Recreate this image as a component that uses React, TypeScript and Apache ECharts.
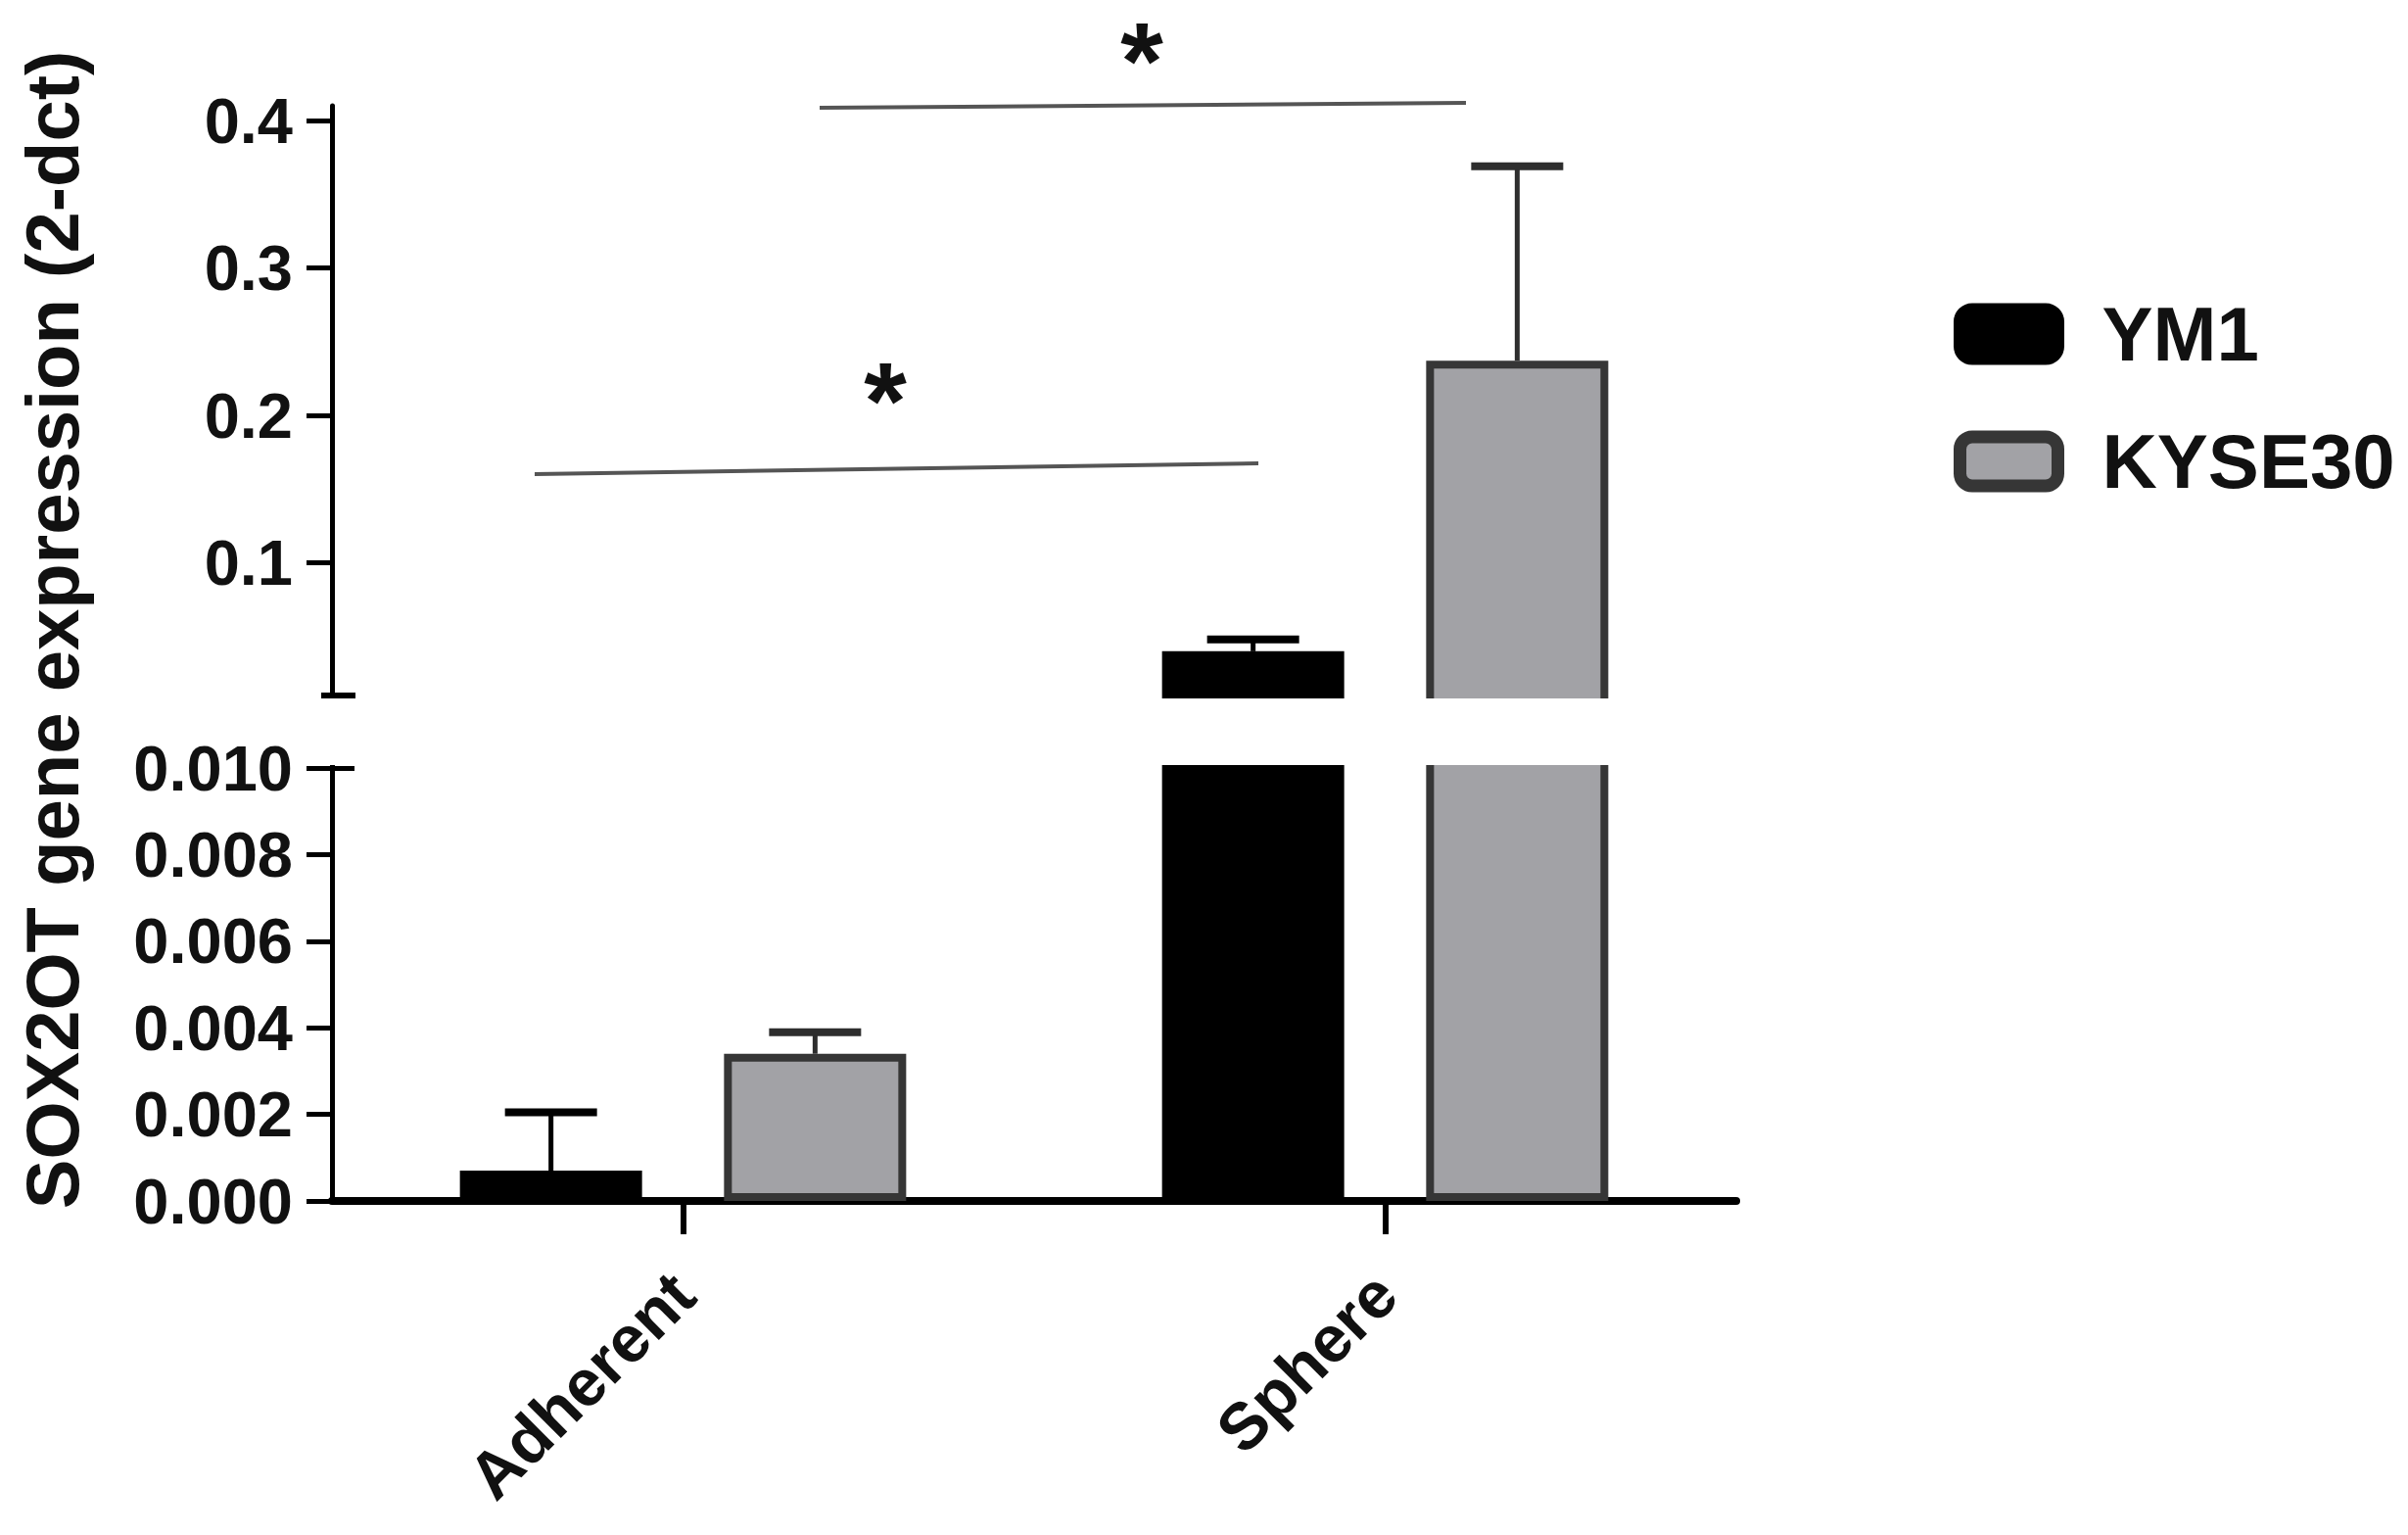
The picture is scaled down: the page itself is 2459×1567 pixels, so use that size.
import React, { useEffect, useRef } from "react";
import * as echarts from "echarts";

// ---- data ----
const categories = ["Adherent", "Sphere"];
const seriesNames = ["YM1", "KYSE30"];
const ym1Mean = [0.0007, 0.04];
const ym1ErrTop = [0.00205, 0.048];
const kyseMean = [0.0034, 0.237];
const kyseErrTop = [0.0039, 0.369];
const upperTickLabels = [0.1, 0.2, 0.3, 0.4];
const lowerTickLabels = [0, 0.002, 0.004, 0.006, 0.008, 0.01];
const breakValue = 0.01; // top of lower segment, bottom of upper segment
const upperRange = [0.005, 0.41];
const lowerRange = [0, 0.0102];
const titleText = "SOX2OT gene expression (2-dct)";
const starText = "*";

// ---- style ----
const FONT = "'Liberation Sans', Arial, Helvetica, sans-serif";
const KYSE_FILL = "#a2a2a6";
const KYSE_BORDER = "#363636";
const BAR_W = 186;
const BAR_GAP = 0.45;
const CAP_W = 94;

function errorRender(seriesIdx: number, part: "upper" | "lower") {
  return (params: any, api: any) => {
    const cat = api.value(0);
    const mean = api.value(1);
    const top = api.value(2);
    if (part === "upper" && mean < breakValue) return null;
    if (part === "lower" && top > breakValue) return null;
    const pTop = api.coord([cat, top]);
    const pBase = api.coord([cat, mean]);
    const off = (seriesIdx === 0 ? -1 : 1) * (BAR_W * (1 + BAR_GAP)) / 2;
    const x = pTop[0] + off;
    const color = seriesIdx === 0 ? "#000" : "#2e2e2e";
    return {
      type: "group",
      children: [
        {
          type: "line",
          shape: { x1: x, y1: pBase[1], x2: x, y2: pTop[1] },
          style: { stroke: color, lineWidth: 5 },
        },
        {
          type: "line",
          shape: { x1: x - CAP_W / 2, y1: pTop[1], x2: x + CAP_W / 2, y2: pTop[1] },
          style: { stroke: color, lineWidth: 8 },
        },
      ],
    };
  };
}

function buildOption() {
  const gridLeft = 339;
  const gridWidth = 1434;
  const labelStyle = {
    fontSize: 65,
    fontWeight: "bold" as const,
    fontFamily: FONT,
    color: "#111",
  };
  const axisLine = { show: true, lineStyle: { color: "#000", width: 5 } };

  const barSeries = (gi: number) => [
    {
      type: "bar",
      name: seriesNames[0],
      xAxisIndex: gi,
      yAxisIndex: gi === 0 ? 0 : 3,
      data: ym1Mean,
      barWidth: BAR_W,
      barGap: `${BAR_GAP * 100}%`,
      itemStyle: { color: "#000", borderColor: "#000", borderWidth: 5 },
      z: 2,
    },
    {
      type: "bar",
      name: seriesNames[1],
      xAxisIndex: gi,
      yAxisIndex: gi === 0 ? 0 : 3,
      data: kyseMean,
      barWidth: BAR_W,
      barGap: `${BAR_GAP * 100}%`,
      itemStyle: { color: KYSE_FILL, borderColor: KYSE_BORDER, borderWidth: 8 },
      z: 2,
    },
  ];

  const errSeries = (gi: number) => [
    {
      type: "custom",
      name: seriesNames[0] + "-err",
      xAxisIndex: gi,
      yAxisIndex: gi === 0 ? 0 : 3,
      renderItem: errorRender(0, gi === 0 ? "upper" : "lower"),
      data: categories.map((_, i) => [i, ym1Mean[i], ym1ErrTop[i]]),
      encode: { x: 0, y: [1, 2] },
      z: 1,
    },
    {
      type: "custom",
      name: seriesNames[1] + "-err",
      xAxisIndex: gi,
      yAxisIndex: gi === 0 ? 0 : 3,
      renderItem: errorRender(1, gi === 0 ? "upper" : "lower"),
      data: categories.map((_, i) => [i, kyseMean[i], kyseErrTop[i]]),
      encode: { x: 0, y: [1, 2] },
      z: 1,
    },
  ];

  return {
    animation: false,
    backgroundColor: "#fff",
    grid: [
      { left: gridLeft, width: gridWidth, top: 108, height: 609.5 },
      { left: gridLeft, width: gridWidth, top: 775.2, height: 450.8 },
    ],
    legend: {
      orient: "vertical",
      left: 1990,
      top: 297,
      itemWidth: 100,
      itemHeight: 50,
      itemGap: 52,
      icon: "roundRect",
      selectedMode: false,
      textStyle: {
        fontSize: 78,
        fontWeight: "bold",
        fontFamily: FONT,
        color: "#111",
        padding: [0, 0, 0, 40],
        lineHeight: 50,
      },
      data: [
        { name: seriesNames[0], itemStyle: { color: "#000", borderColor: "#000", borderWidth: 13 } },
        { name: seriesNames[1], itemStyle: { color: KYSE_FILL, borderColor: KYSE_BORDER, borderWidth: 13 } },
      ],
    },
    xAxis: [
      {
        type: "category",
        gridIndex: 0,
        data: categories,
        show: false,
      },
      {
        type: "category",
        gridIndex: 1,
        data: categories,
        axisLine: { show: true, lineStyle: { color: "#000", width: 8 } },
        axisTick: { show: true, alignWithLabel: true, length: 34, lineStyle: { color: "#000", width: 6 } },
        axisLabel: {
          rotate: 45,
          margin: 84,
          fontSize: 67,
          fontWeight: "bold",
          fontFamily: FONT,
          color: "#111",
        },
      },
    ],
    yAxis: [
      // upper main
      {
        type: "value",
        gridIndex: 0,
        position: "left",
        min: upperRange[0],
        max: upperRange[1],
        axisLine,
        splitLine: { show: false },
        axisTick: { show: true, customValues: upperTickLabels, length: 26, lineStyle: { color: "#000", width: 5 } },
        axisLabel: { ...labelStyle, margin: 40, customValues: upperTickLabels, formatter: (v: number) => v.toFixed(1) },
      },
      // upper break cap (outside part)
      {
        type: "value",
        gridIndex: 0,
        position: "left",
        min: upperRange[0],
        max: upperRange[1],
        axisLine: { show: false },
        splitLine: { show: false },
        axisLabel: { show: false },
        axisTick: { show: true, customValues: [breakValue], length: 11, lineStyle: { color: "#000", width: 6 } },
      },
      // upper break cap (inside part)
      {
        type: "value",
        gridIndex: 0,
        position: "left",
        min: upperRange[0],
        max: upperRange[1],
        axisLine: { show: false },
        splitLine: { show: false },
        axisLabel: { show: false },
        axisTick: { show: true, inside: true, customValues: [breakValue], length: 24, lineStyle: { color: "#000", width: 6 } },
      },
      // lower main
      {
        type: "value",
        gridIndex: 1,
        position: "left",
        min: lowerRange[0],
        max: lowerRange[1],
        axisLine,
        splitLine: { show: false },
        axisTick: { show: true, customValues: lowerTickLabels, length: 26, lineStyle: { color: "#000", width: 5 } },
        axisLabel: { ...labelStyle, margin: 40, customValues: lowerTickLabels, formatter: (v: number) => v.toFixed(3) },
      },
      // lower break cap (inside part)
      {
        type: "value",
        gridIndex: 1,
        position: "left",
        min: lowerRange[0],
        max: lowerRange[1],
        axisLine: { show: false },
        splitLine: { show: false },
        axisLabel: { show: false },
        axisTick: { show: true, inside: true, customValues: [breakValue], length: 23, lineStyle: { color: "#000", width: 5 } },
      },
    ],
    series: [...barSeries(0), ...barSeries(1), ...errSeries(0), ...errSeries(1)],
    graphic: [
      // axis break gap
      {
        type: "rect",
        z: 100,
        shape: { x: 305, y: 713, width: 1500, height: 68 },
        style: { fill: "#fff" },
      },
      {
        type: "text",
        x: 53,
        y: 643,
        rotation: Math.PI / 2,
        style: {
          text: titleText,
          fontSize: 76,
          fontWeight: "bold",
          fontFamily: FONT,
          fill: "#111",
          align: "center",
          verticalAlign: "middle",
        },
      },
      // significance brackets
      {
        type: "line",
        shape: { x1: 837, y1: 110, x2: 1497, y2: 105 },
        style: { stroke: "#555", lineWidth: 4 },
      },
      {
        type: "text",
        x: 1166,
        y: 62,
        style: { text: starText, fontSize: 112, fontWeight: "bold", fontFamily: FONT, fill: "#111", align: "center", verticalAlign: "middle" },
      },
      {
        type: "line",
        shape: { x1: 546, y1: 484, x2: 1285, y2: 473 },
        style: { stroke: "#555", lineWidth: 4 },
      },
      {
        type: "text",
        x: 904,
        y: 409,
        style: { text: starText, fontSize: 112, fontWeight: "bold", fontFamily: FONT, fill: "#111", align: "center", verticalAlign: "middle" },
      },
    ],
  };
}

export default function App() {
  const ref = useRef<HTMLDivElement>(null);
  useEffect(() => {
    if (!ref.current) return;
    const chart = echarts.init(ref.current, undefined, { renderer: "svg" });
    chart.setOption(buildOption() as any);
    return () => chart.dispose();
  }, []);
  return (
    <div
      ref={ref}
      style={{ position: "absolute", left: 0, top: 0, width: 2459, height: 1567, background: "#fff" }}
    />
  );
}
